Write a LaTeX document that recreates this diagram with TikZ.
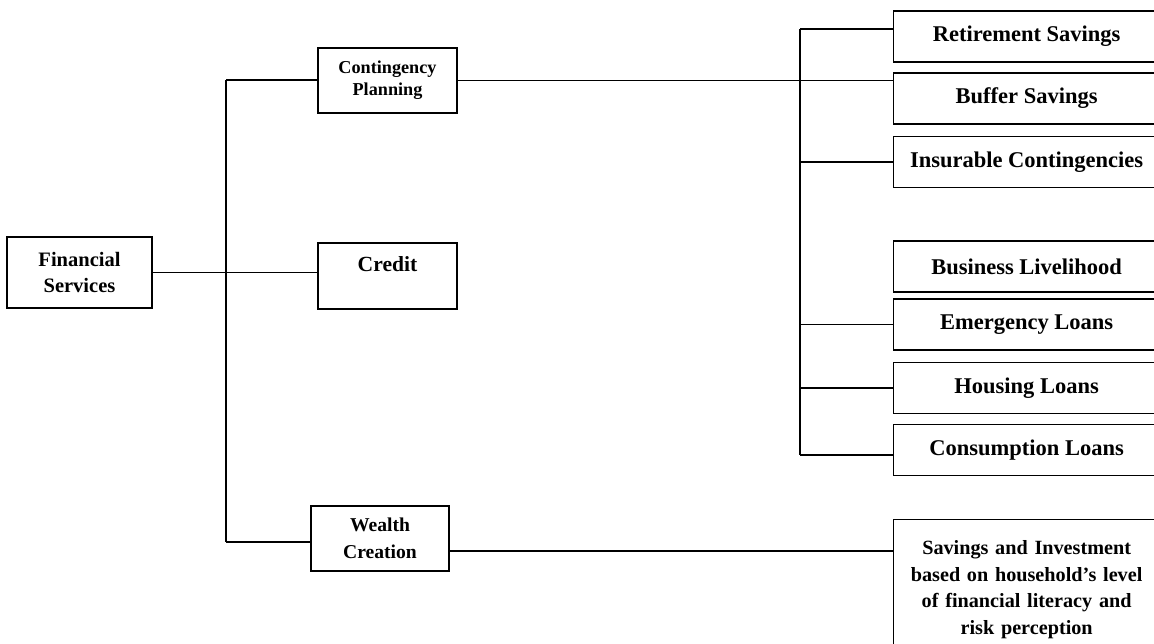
\documentclass[tikz,border=0pt]{standalone}
\usepackage{fontspec}
\setmainfont{Liberation Serif}
\begin{document}
\begin{tikzpicture}[x=1pt,y=-1pt,
  box/.style={draw, line width=1.3pt, align=center, inner sep=0pt, font=\bfseries},
  midbox/.style={box, minimum width=139pt, minimum height=65pt},
  rbox/.style={box, anchor=west, minimum width=266pt, minimum height=51pt,
    font=\bfseries\fontsize{22.5}{27}\selectfont},
  conn/.style={line width=1.3pt}]
\useasboundingbox (0,0) rectangle (1154,643);
\clip (0,0) rectangle (1154,643);
% left and middle
\node[box, minimum width=145pt, minimum height=71pt,
  font=\bfseries\fontsize{20.5}{26}\selectfont] (fs) at (79.5,272.5) {Financial\\Services};
\node[midbox, font=\bfseries\fontsize{18.2}{22}\selectfont] (cp) at (387.5,80.5) {Contingency\\Planning};
\node[midbox, minimum height=66pt, font=\bfseries\fontsize{21.6}{24}\selectfont] (cr) at (387.5,276) {Credit\\\phantom{Credit}};
\node[midbox, minimum width=138pt, font=\bfseries\fontsize{19.6}{27}\selectfont] (wc) at (380,538.5) {Wealth\\Creation};
% right boxes
\node[rbox] (ret) at (893,36.5) {Retirement Savings};
\node[rbox] (buf) at (893,98.5) {Buffer Savings};
\node[rbox] (ins) at (893,162) {Insurable Contingencies};
\node[rbox] (bus) at (893,266.5) {Business Livelihood};
\node[rbox] (eme) at (893,324.5) {Emergency Loans};
\node[rbox] (hou) at (893,388) {Housing Loans};
\node[rbox] (con) at (893,450) {Consumption Loans};
\node[box, anchor=north west, minimum width=266pt, text width=250pt, inner xsep=8pt, inner ysep=14pt,
  minimum height=140pt, font=\bfseries\fontsize{20.2}{26.7}\selectfont] (sav) at (893,519)
  {Savings and Investment\\based on household’s level\\of financial literacy and\\risk perception};
% trunk
\coordinate (trTop) at (226,80);
\coordinate (trBot) at (226,542);
\draw[conn] (trTop) -- (trBot);
\draw[conn] (trTop) -- (trTop -| cp.west);
\draw[conn] (trBot) -- (trBot -| wc.west);
\draw[conn] (fs.east) -- (fs.east -| cr.west);
\draw[conn] (cp.east) -- (cp.east -| buf.west);
\draw[conn] ([yshift=-12.5pt]wc.east) coordinate (wout) -- (wout -| sav.west);
% right bracket
\coordinate (rTop) at (800,29);
\coordinate (rBot) at (800,455);
\draw[conn] (rTop) -- (rBot);
\draw[conn] (rTop) -- (rTop -| ret.west);
\draw[conn] (ins.west) -- (ins.west -| rTop);
\draw[conn] (eme.west) -- (eme.west -| rTop);
\draw[conn] (hou.west) -- (hou.west -| rTop);
\draw[conn] (rBot) -- (rBot -| con.west);
\end{tikzpicture}
\end{document}
